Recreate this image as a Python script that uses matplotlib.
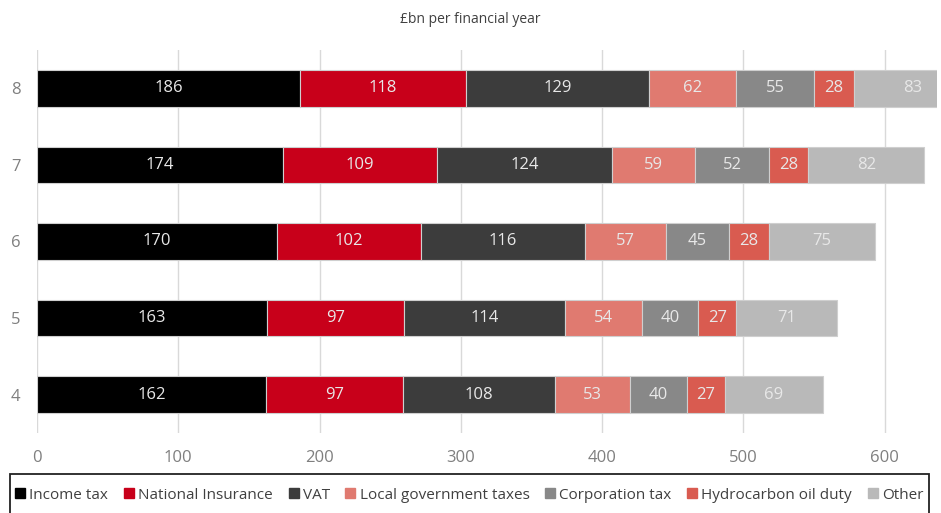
import matplotlib
matplotlib.use("Agg")
import matplotlib.pyplot as plt
from matplotlib.lines import Line2D
from matplotlib.patches import Rectangle
import numpy as np

plt.rcParams['font.family'] = ['Open Sans', 'DejaVu Sans']

categories = ["4", "5", "6", "7", "8"]
series_names = ["Income tax", "National Insurance", "VAT", "Local government taxes",
                "Corporation tax", "Hydrocarbon oil duty", "Other"]
income_tax = [162, 163, 170, 174, 186]
national_insurance = [97, 97, 102, 109, 118]
vat = [108, 114, 116, 124, 129]
local_gov = [53, 54, 57, 59, 62]
corporation_tax = [40, 40, 45, 52, 55]
hydrocarbon = [27, 27, 28, 28, 28]
other = [69, 71, 75, 82, 83]
x_ticks = [0, 100, 200, 300, 400, 500, 600]

series = [income_tax, national_insurance, vat, local_gov, corporation_tax, hydrocarbon, other]
colors = ["#000000", "#c8001a", "#3c3c3c", "#e07a70", "#888888", "#d95b50", "#b9b9b9"]

fig = plt.figure(figsize=(9.41, 5.13), dpi=100)
ax = fig.add_axes([0.0393, 0.156, 0.9564, 0.7465])

y = np.arange(len(categories))
left = np.zeros(len(categories))
for vals, col in zip(series, colors):
    vals = np.array(vals, dtype=float)
    ax.barh(y, vals, left=left, height=0.48, color=col, edgecolor="#cfcfcf",
            linewidth=0.8, zorder=2)
    for yi, (l, v) in enumerate(zip(left, vals)):
        cx = l + v / 2
        ax.text(cx, yi, f"{int(v)}", ha="center", va="center", fontsize=12,
                color="#e8e8e8", zorder=3)
    left = left + vals

ax.set_xlim(0, 637)
ax.set_ylim(-0.5, len(categories) - 0.5)
ax.set_xticks(x_ticks)
ax.set_xticklabels([str(t) for t in x_ticks])
ax.set_yticks(y)
ax.set_yticklabels(categories)
ax.tick_params(axis="both", length=0, labelsize=12, labelcolor="#7f7f7f")
ax.tick_params(axis="x", pad=12)
ax.tick_params(axis="y", pad=12)
ax.xaxis.grid(True, color="#d9d9d9", linewidth=1, zorder=0)
ax.set_axisbelow(True)
for s in ax.spines.values():
    s.set_visible(False)

fig.text(0.5, 0.962, "£bn per financial year", ha="center", va="center",
         fontsize=10, color="#404040")

handles = [Line2D([0], [0], marker="s", linestyle="none", markersize=7,
                  markerfacecolor=c, markeredgecolor=c) for c in colors]
fig.legend(handles, series_names, loc="center", bbox_to_anchor=(0.4985, 0.035),
           ncol=7, frameon=False, fontsize=11, labelcolor="#404040",
           handlelength=0.7, handletextpad=0.25, columnspacing=1.0,
           borderaxespad=0, borderpad=0)

fig.add_artist(Rectangle((0.0106, -0.1), 0.977, 0.1 + 0.076, transform=fig.transFigure,
                         fill=False, edgecolor="#222222", linewidth=1.3))

fig.savefig("out.png", dpi=100)
